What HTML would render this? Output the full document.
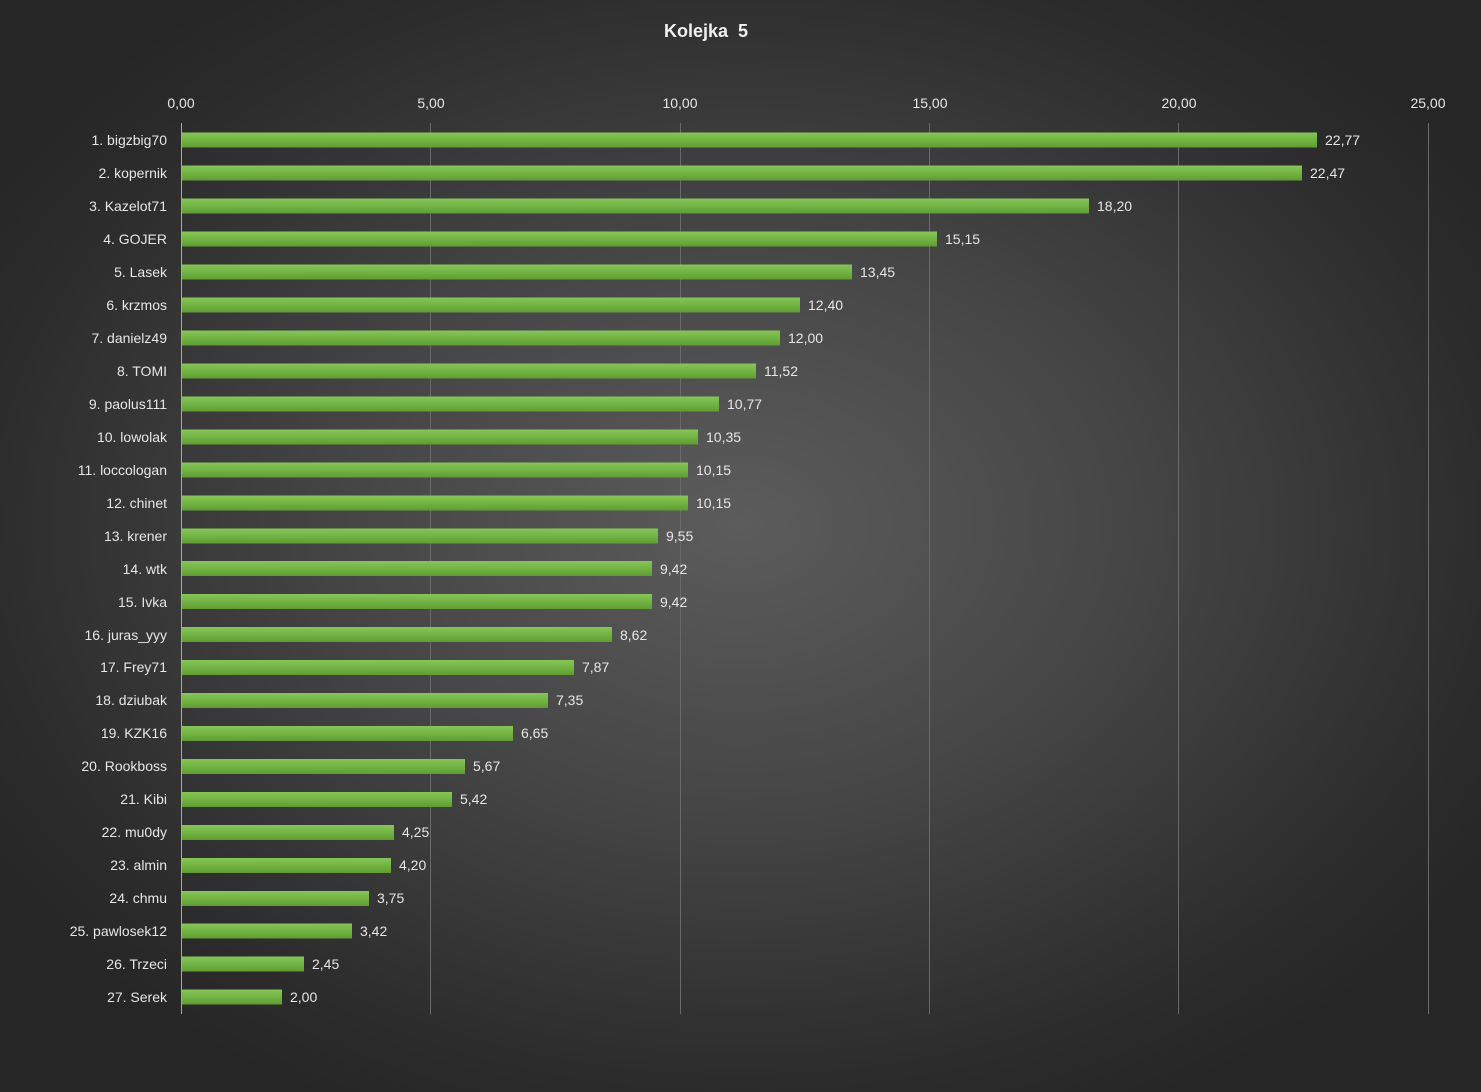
<!DOCTYPE html>
<html><head><meta charset="utf-8"><style>
html,body{margin:0;padding:0;}
body{width:1481px;height:1092px;overflow:hidden;background:radial-gradient(ellipse 60% 60% at 50% 48%,#5c5c5c 0%,#454545 45%,#2c2c2c 85%,#262626 100%);}
svg{position:absolute;left:0;top:0;font-family:"Liberation Sans",sans-serif;}
.l{fill:#e6e6e6;font-size:14px;text-anchor:end;}
.v{fill:#e6e6e6;font-size:14px;}
.t{fill:#e6e6e6;font-size:14px;text-anchor:middle;}
</style></head><body>
<svg width="1481" height="1092" xmlns="http://www.w3.org/2000/svg">
<defs><linearGradient id="g" x1="0" y1="0" x2="0" y2="1"><stop offset="0" stop-color="#86c55a"/><stop offset="0.5" stop-color="#72b443"/><stop offset="1" stop-color="#5f9c33"/></linearGradient></defs>
<text x="706" y="37" text-anchor="middle" fill="#f0f0f0" font-size="18" font-weight="bold">Kolejka &#160;5</text>
<g stroke="#6a6a6a" stroke-width="1">
<line x1="430.5" y1="123" x2="430.5" y2="1014"/><line x1="680.5" y1="123" x2="680.5" y2="1014"/><line x1="929.5" y1="123" x2="929.5" y2="1014"/><line x1="1178.5" y1="123" x2="1178.5" y2="1014"/><line x1="1428.5" y1="123" x2="1428.5" y2="1014"/>
</g>
<line x1="181.5" y1="123" x2="181.5" y2="1014" stroke="#a8a8a8"/>
<text class="t" x="181" y="108">0,00</text><text class="t" x="431" y="108">5,00</text><text class="t" x="680" y="108">10,00</text><text class="t" x="930" y="108">15,00</text><text class="t" x="1179" y="108">20,00</text><text class="t" x="1428" y="108">25,00</text>
<g fill="url(#g)">
<rect x="182" y="132.5" width="1135" height="15"/>
<rect x="182" y="165.5" width="1120" height="15"/>
<rect x="182" y="198.5" width="907" height="15"/>
<rect x="182" y="231.5" width="755" height="15"/>
<rect x="182" y="264.5" width="670" height="15"/>
<rect x="182" y="297.5" width="618" height="15"/>
<rect x="182" y="330.5" width="598" height="15"/>
<rect x="182" y="363.5" width="574" height="15"/>
<rect x="182" y="396.5" width="537" height="15"/>
<rect x="182" y="429.5" width="516" height="15"/>
<rect x="182" y="462.5" width="506" height="15"/>
<rect x="182" y="495.5" width="506" height="15"/>
<rect x="182" y="528.5" width="476" height="15"/>
<rect x="182" y="561" width="470" height="15"/>
<rect x="182" y="594" width="470" height="15"/>
<rect x="182" y="627" width="430" height="15"/>
<rect x="182" y="660" width="392" height="15"/>
<rect x="182" y="693" width="366" height="15"/>
<rect x="182" y="726" width="331" height="15"/>
<rect x="182" y="759" width="283" height="15"/>
<rect x="182" y="792" width="270" height="15"/>
<rect x="182" y="825" width="212" height="15"/>
<rect x="182" y="858" width="209" height="15"/>
<rect x="182" y="891" width="187" height="15"/>
<rect x="182" y="923.5" width="170" height="15"/>
<rect x="182" y="956.5" width="122" height="15"/>
<rect x="182" y="989.5" width="100" height="15"/>
</g>
<g class="l">
<text class="l" x="167" y="145">1. bigzbig70</text>
<text class="l" x="167" y="178">2. kopernik</text>
<text class="l" x="167" y="211">3. Kazelot71</text>
<text class="l" x="167" y="244">4. GOJER</text>
<text class="l" x="167" y="277">5. Lasek</text>
<text class="l" x="167" y="310">6. krzmos</text>
<text class="l" x="167" y="343">7. danielz49</text>
<text class="l" x="167" y="376">8. TOMI</text>
<text class="l" x="167" y="409">9. paolus111</text>
<text class="l" x="167" y="442">10. lowolak</text>
<text class="l" x="167" y="475">11. loccologan</text>
<text class="l" x="167" y="508">12. chinet</text>
<text class="l" x="167" y="541">13. krener</text>
<text class="l" x="167" y="574">14. wtk</text>
<text class="l" x="167" y="607">15. Ivka</text>
<text class="l" x="167" y="640">16. juras_yyy</text>
<text class="l" x="167" y="672">17. Frey71</text>
<text class="l" x="167" y="705">18. dziubak</text>
<text class="l" x="167" y="738">19. KZK16</text>
<text class="l" x="167" y="771">20. Rookboss</text>
<text class="l" x="167" y="804">21. Kibi</text>
<text class="l" x="167" y="837">22. mu0dy</text>
<text class="l" x="167" y="870">23. almin</text>
<text class="l" x="167" y="903">24. chmu</text>
<text class="l" x="167" y="936">25. pawlosek12</text>
<text class="l" x="167" y="969">26. Trzeci</text>
<text class="l" x="167" y="1002">27. Serek</text>
</g>
<text class="v" x="1325" y="145">22,77</text>
<text class="v" x="1310" y="178">22,47</text>
<text class="v" x="1097" y="211">18,20</text>
<text class="v" x="945" y="244">15,15</text>
<text class="v" x="860" y="277">13,45</text>
<text class="v" x="808" y="310">12,40</text>
<text class="v" x="788" y="343">12,00</text>
<text class="v" x="764" y="376">11,52</text>
<text class="v" x="727" y="409">10,77</text>
<text class="v" x="706" y="442">10,35</text>
<text class="v" x="696" y="475">10,15</text>
<text class="v" x="696" y="508">10,15</text>
<text class="v" x="666" y="541">9,55</text>
<text class="v" x="660" y="574">9,42</text>
<text class="v" x="660" y="607">9,42</text>
<text class="v" x="620" y="640">8,62</text>
<text class="v" x="582" y="672">7,87</text>
<text class="v" x="556" y="705">7,35</text>
<text class="v" x="521" y="738">6,65</text>
<text class="v" x="473" y="771">5,67</text>
<text class="v" x="460" y="804">5,42</text>
<text class="v" x="402" y="837">4,25</text>
<text class="v" x="399" y="870">4,20</text>
<text class="v" x="377" y="903">3,75</text>
<text class="v" x="360" y="936">3,42</text>
<text class="v" x="312" y="969">2,45</text>
<text class="v" x="290" y="1002">2,00</text>
</svg>
</body></html>
